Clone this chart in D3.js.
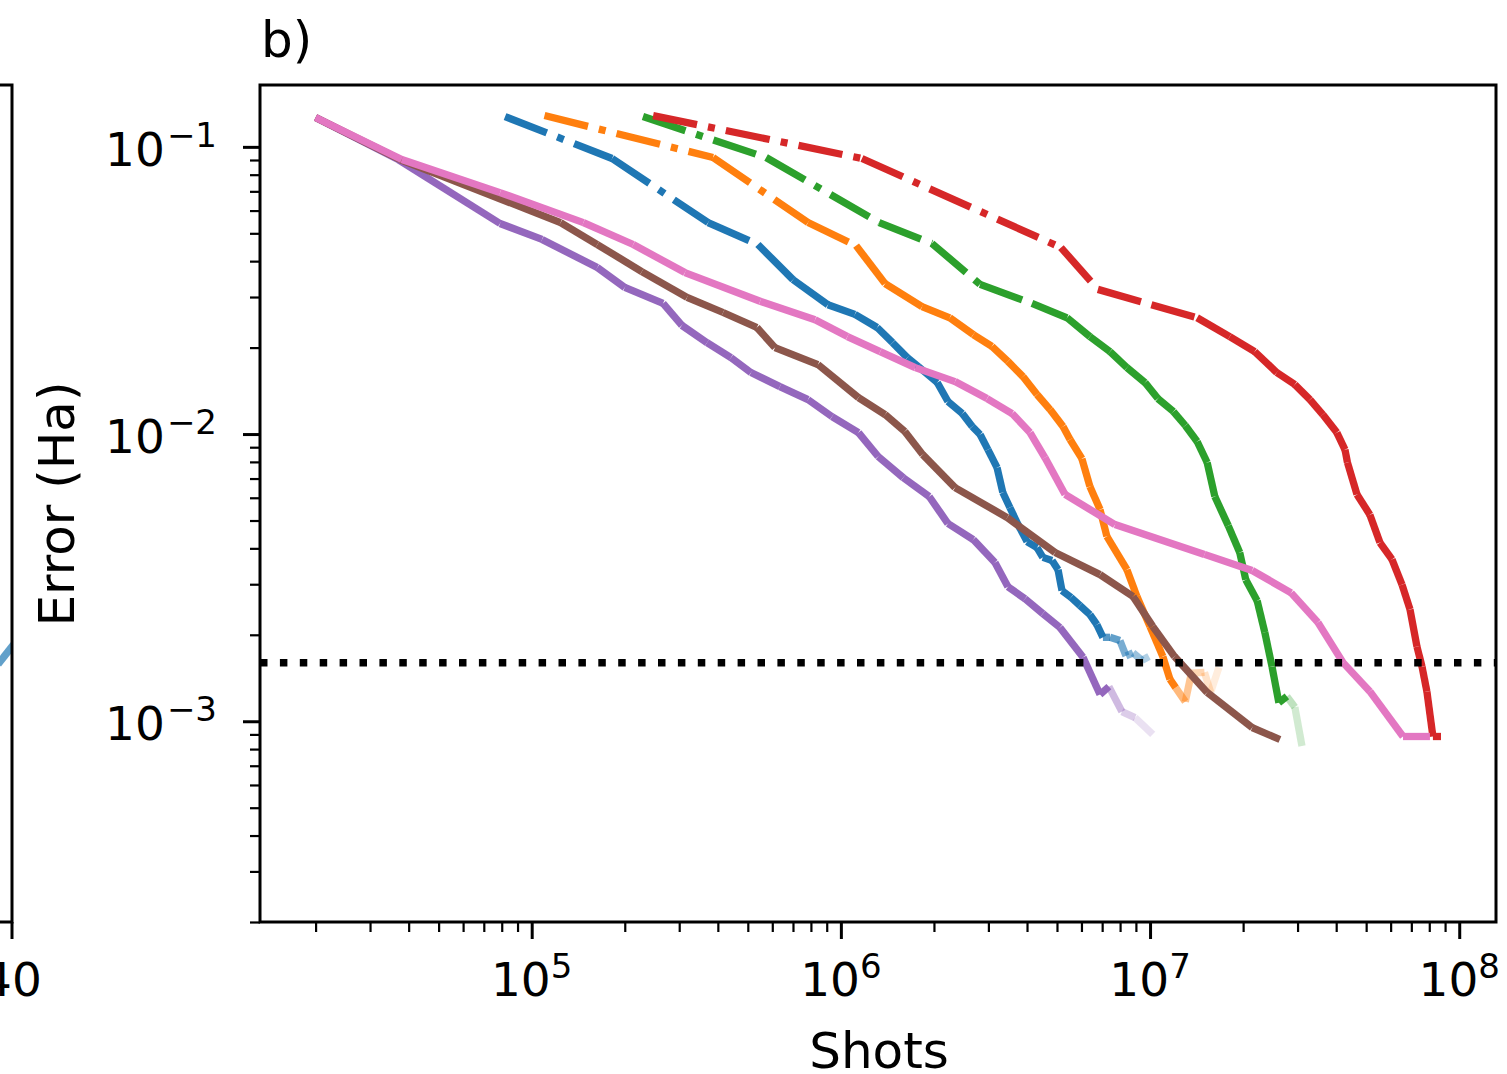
<!DOCTYPE html>
<html>
<head>
<meta charset="utf-8">
<script src="https://cdn.jsdelivr.net/npm/d3@7"></script>
<style>
  html, body { margin: 0; padding: 0; background: #fff; overflow: hidden; }
  text { font-family: "DejaVu Sans", sans-serif; fill: #000; }
</style>
</head>
<body>
<svg id="chart" width="1507" height="1074"></svg>
<script>
// ---- data: shots spent vs. energy error (Ha) for each run ----
const shotsBlue = [8.2e4, 1.82e5, 3.72e5, 5.39e5, 7.0e5, 9.08e5, 1.11e6, 1.31e6, 1.47e6, 1.64e6, 1.78e6, 2.05e6, 2.22e6, 2.47e6, 2.66e6, 2.82e6, 2.99e6, 3.2e6, 3.34e6, 3.52e6, 3.74e6, 4.0e6, 4.31e6, 4.5e6, 4.82e6, 5.04e6, 5.19e6, 5.55e6, 5.93e6, 6.39e6, 6.73e6, 7.04e6, 7.42e6, 7.99e6, 8.36e6, 8.81e6, 9.42e6, 9.92e6];
const errorBlue = [0.1275, 0.0911, 0.0545, 0.0457, 0.0345, 0.0282, 0.0261, 0.0235, 0.0208, 0.01846, 0.01718, 0.01511, 0.01298, 0.01179, 0.01062, 0.00996, 0.00883, 0.00764, 0.00626, 0.00555, 0.00484, 0.00422, 0.00402, 0.00372, 0.00363, 0.00337, 0.00285, 0.0027, 0.00253, 0.00235, 0.00217, 0.00196, 0.00196, 0.00191, 0.00169, 0.00173, 0.00163, 0.00168];

const shotsOrange = [1.1e5, 3.86e5, 7.83e5, 1.12e6, 1.39e6, 1.83e6, 2.25e6, 2.68e6, 3.08e6, 3.47e6, 3.88e6, 4.31e6, 4.75e6, 5.23e6, 5.51e6, 6.02e6, 6.39e6, 6.89e6, 7.25e6, 8.42e6, 9.07e6, 9.99e6, 1.10e7, 1.16e7, 1.21e7, 1.30e7, 1.36e7, 1.50e7, 1.57e7, 1.67e7];
const errorOrange = [0.1285, 0.0918, 0.0545, 0.0453, 0.0334, 0.0278, 0.0254, 0.0222, 0.0202, 0.0179, 0.01585, 0.01373, 0.01217, 0.01062, 0.00957, 0.00821, 0.00657, 0.00546, 0.0044, 0.00337, 0.00272, 0.00214, 0.00168, 0.0014, 0.00131, 0.00117, 0.00147, 0.00148, 0.00126, 0.00154];

const shotsGreen = [2.29e5, 5.73e5, 1.33e6, 1.97e6, 2.82e6, 4.15e6, 5.39e6, 6.39e6, 7.42e6, 8.42e6, 9.63e6, 1.06e7, 1.19e7, 1.30e7, 1.42e7, 1.53e7, 1.62e7, 1.79e7, 1.95e7, 2.04e7, 2.22e7, 2.35e7, 2.48e7, 2.61e7, 2.77e7, 2.94e7, 3.1e7];
const errorGreen = [0.1275, 0.0918, 0.0545, 0.0461, 0.0332, 0.0285, 0.0254, 0.02185, 0.01937, 0.01704, 0.01511, 0.01329, 0.01198, 0.01071, 0.00942, 0.00796, 0.00606, 0.0048, 0.00387, 0.00311, 0.00263, 0.00204, 0.00155, 0.00116, 0.00122, 0.00112, 0.00082];

const shotsRed = [2.47e5, 1.17e6, 5.15e6, 6.78e6, 1.01e7, 1.42e7, 1.81e7, 2.18e7, 2.57e7, 2.94e7, 3.29e7, 3.62e7, 4.02e7, 4.27e7, 4.35e7, 4.67e7, 5.14e7, 5.54e7, 6.06e7, 6.53e7, 6.93e7, 7.3e7, 7.58e7, 7.86e7, 8.22e7, 8.73e7];
const errorRed = [0.1285, 0.0911, 0.0446, 0.0319, 0.0282, 0.0254, 0.02185, 0.01937, 0.01637, 0.01487, 0.01318, 0.01169, 0.01012, 0.00883, 0.00796, 0.00616, 0.00524, 0.00419, 0.00366, 0.00299, 0.00245, 0.00182, 0.00155, 0.00127, 0.000885, 0.000885];

const shotsPurple = [2.0e4, 3.7e4, 7.9e4, 1.08e5, 1.63e5, 2.0e5, 2.66e5, 3.06e5, 3.69e5, 4.41e5, 5.12e5, 6.35e5, 7.83e5, 9.36e5, 1.14e6, 1.32e6, 1.59e6, 1.93e6, 2.22e6, 2.68e6, 3.15e6, 3.47e6, 3.94e6, 4.5e6, 5.11e6, 6.07e6, 6.89e6, 7.36e6, 8.11e6, 8.94e6, 1.02e7];
const errorPurple = [0.1265, 0.0903, 0.0541, 0.0476, 0.038, 0.0324, 0.0285, 0.0239, 0.0208, 0.01846, 0.01637, 0.01463, 0.01318, 0.0115, 0.01012, 0.00835, 0.00705, 0.00606, 0.00488, 0.00429, 0.00357, 0.00294, 0.00267, 0.00237, 0.00212, 0.00167, 0.00124, 0.00132, 0.00108, 0.00103, 0.0009];

const shotsBrown = [2.0e4, 3.75e4, 1.24e5, 1.63e5, 2.27e5, 3.18e5, 4.16e5, 5.35e5, 6.12e5, 8.43e5, 1.14e6, 1.39e6, 1.61e6, 1.84e6, 2.34e6, 3.45e6, 4.93e6, 6.89e6, 8.81e6, 1.02e7, 1.2e7, 1.53e7, 2.14e7, 2.63e7];
const errorBrown = [0.1265, 0.0903, 0.0545, 0.0457, 0.0368, 0.0299, 0.0265, 0.0235, 0.02, 0.01746, 0.0134, 0.01169, 0.0102, 0.00848, 0.00651, 0.00512, 0.00387, 0.00324, 0.00272, 0.00214, 0.00168, 0.00126, 0.00095, 0.000864];

const shotsPink = [2.0e4, 3.8e4, 7.9e4, 1.47e5, 2.13e5, 3.13e5, 5.48e5, 8.25e5, 1.05e6, 1.34e6, 1.74e6, 2.34e6, 2.97e6, 3.58e6, 4.09e6, 4.57e6, 5.31e6, 7.7e6, 1.5e7, 2.14e7, 2.86e7, 3.49e7, 4.21e7, 5.14e7, 6.58e7, 8.04e7];
const errorPink = [0.1265, 0.0903, 0.0693, 0.0545, 0.0457, 0.0365, 0.029, 0.025, 0.02185, 0.01937, 0.01704, 0.01523, 0.01329, 0.01179, 0.01012, 0.00828, 0.00616, 0.00484, 0.00381, 0.00335, 0.0028, 0.00221, 0.0016, 0.00127, 0.000885, 0.000885];

// number of leading segments drawn dash-dotted, and opacity of the trailing segments
const dashDotSegments = { blue: 3, orange: 3, green: 5, red: 5, purple: 0, brown: 0, pink: 0 };
const tailOpacity = {
  blue: [0.75, 0.7, 0.6, 0.55, 0.45, 0.35],
  orange: [0.55, 0.45, 0.32, 0.22, 0.14],
  green: [0.3, 0.22],
  red: [],
  purple: [0.45, 0.33, 0.2],
  brown: [],
  pink: []
};

// reference level drawn as the dotted line (Ha)
const chemicalAccuracy = 1.6e-3;

// tick decades
const xTickExponents = [5, 6, 7, 8];
const yTickExponents = [-1, -2, -3];

// neighbouring panel (a): only its last stretch reaches into view
const panelAIteration = [39.55, 40.05];
const panelAError = [0.00158, 0.00185];
const panelATickLabels = ["40"];

const colors = {
  blue: "#1f77b4", orange: "#ff7f0e", green: "#2ca02c", red: "#d62728",
  purple: "#9467bd", brown: "#8c564b", pink: "#e377c2"
};

const series = [
  { key: "blue", shots: shotsBlue, error: errorBlue },
  { key: "orange", shots: shotsOrange, error: errorOrange },
  { key: "green", shots: shotsGreen, error: errorGreen },
  { key: "red", shots: shotsRed, error: errorRed },
  { key: "purple", shots: shotsPurple, error: errorPurple },
  { key: "brown", shots: shotsBrown, error: errorBrown },
  { key: "pink", shots: shotsPink, error: errorPink }
];

// ---- layout ----
const svg = d3.select("#chart");
const plot = { left: 260, right: 1496, top: 85, bottom: 922 };
const LW = 7.3;
const DASH_UNIT = 7;
const dashDot = [6.4 * DASH_UNIT, 1.6 * DASH_UNIT, 1.0 * DASH_UNIT, 1.6 * DASH_UNIT].join(",");
const FONT = 47, SUP = 34, LABEL_FONT = 50;

const x = d3.scaleLog().domain([13220, 1.315e8]).range([plot.left, plot.right]);
const y = d3.scaleLog().domain([2.0e-4, 0.1642]).range([plot.bottom, plot.top]);

const defs = svg.append("defs");
defs.append("clipPath").attr("id", "plotClip")
  .append("rect")
  .attr("x", plot.left).attr("y", plot.top)
  .attr("width", plot.right - plot.left).attr("height", plot.bottom - plot.top);

const lineGen = d3.line().x(d => x(d[0])).y(d => y(d[1]));

// ---- panel (a) remnant on the left edge ----
const panelARight = 12;
const xa = d3.scaleLinear().domain([0, 40]).range([panelARight - (plot.right - plot.left), panelARight]);
defs.append("clipPath").attr("id", "panelAClip")
  .append("rect").attr("x", -50).attr("y", plot.top)
  .attr("width", panelARight + 50).attr("height", plot.bottom - plot.top);
svg.append("path")
  .attr("clip-path", "url(#panelAClip)")
  .attr("d", d3.line().x(d => xa(d[0])).y(d => y(d[1]))(panelAIteration.map((v, i) => [v, panelAError[i]])))
  .attr("fill", "none").attr("stroke", colors.blue).attr("stroke-opacity", 0.7)
  .attr("stroke-width", LW);
const panelA = svg.append("g");
panelA.append("path")
  .attr("d", `M0,${plot.top}H${xa(40)}V${plot.bottom}H0`)
  .attr("fill", "none").attr("stroke", "#000").attr("stroke-width", 3)
  .attr("stroke-linejoin", "miter");
panelA.append("line")
  .attr("x1", xa(40)).attr("x2", xa(40))
  .attr("y1", plot.bottom).attr("y2", plot.bottom + 17)
  .attr("stroke", "#000").attr("stroke-width", 3);
panelA.append("text")
  .attr("x", xa(40)).attr("y", 996)
  .attr("text-anchor", "middle").attr("font-size", FONT)
  .text(panelATickLabels[0]);

// ---- curves, one segment at a time ----
const curves = svg.append("g").attr("clip-path", "url(#plotClip)");
series.forEach(s => {
  const pts = s.shots.map((v, i) => [v, s.error[i]]);
  const nSeg = pts.length - 1;
  const tail = tailOpacity[s.key];
  const tailStart = nSeg - tail.length;
  for (let i = 0; i < nSeg; i++) {
    const seg = curves.append("path")
      .attr("d", lineGen([pts[i], pts[i + 1]]))
      .attr("fill", "none")
      .attr("stroke", colors[s.key])
      .attr("stroke-width", LW)
      .attr("stroke-linecap", "butt")
      .attr("stroke-linejoin", "round");
    if (i < dashDotSegments[s.key]) seg.attr("stroke-dasharray", dashDot);
    if (i >= tailStart) seg.attr("stroke-opacity", tail[i - tailStart]);
  }
});

// dotted reference line
curves.append("line")
  .attr("x1", plot.left).attr("x2", plot.right)
  .attr("y1", y(chemicalAccuracy)).attr("y2", y(chemicalAccuracy))
  .attr("stroke", "#000").attr("stroke-width", 7.5)
  .attr("stroke-dasharray", "7.5,12.4");

// ---- axes ----
const xMajor = xTickExponents.map(e => Math.pow(10, e));
const yMajor = yTickExponents.map(e => Math.pow(10, e));
const xMinor = x.ticks().filter(v => !xMajor.some(m => Math.abs(m - v) / m < 1e-9));
const yMinor = y.ticks().filter(v => !yMajor.some(m => Math.abs(m - v) / m < 1e-9));

const xAxisMajor = svg.append("g").attr("transform", `translate(0,${plot.bottom})`)
  .call(d3.axisBottom(x).tickValues(xMajor).tickSize(17).tickFormat(""));
const xAxisMinor = svg.append("g").attr("transform", `translate(0,${plot.bottom})`)
  .call(d3.axisBottom(x).tickValues(xMinor).tickSize(10).tickFormat(""));
const yAxisMajor = svg.append("g").attr("transform", `translate(${plot.left},0)`)
  .call(d3.axisLeft(y).tickValues(yMajor).tickSize(17).tickFormat(""));
const yAxisMinor = svg.append("g").attr("transform", `translate(${plot.left},0)`)
  .call(d3.axisLeft(y).tickValues(yMinor).tickSize(10).tickFormat(""));

[xAxisMajor, xAxisMinor, yAxisMajor, yAxisMinor].forEach(g => g.select(".domain").remove());
[xAxisMajor, yAxisMajor].forEach(g => g.selectAll(".tick line").attr("stroke", "#000").attr("stroke-width", 3));
[xAxisMinor, yAxisMinor].forEach(g => g.selectAll(".tick line").attr("stroke", "#000").attr("stroke-width", 2.2));

// x tick labels 10^n
xTickExponents.forEach(e => {
  const t = svg.append("text")
    .attr("x", x(Math.pow(10, e))).attr("y", 996)
    .attr("text-anchor", "middle").attr("font-size", FONT);
  t.append("tspan").text("10");
  t.append("tspan").attr("dy", -18).attr("font-size", SUP).text(String(e));
});

// y tick labels 10^-n
yTickExponents.forEach(e => {
  const t = svg.append("text")
    .attr("x", 217).attr("y", y(Math.pow(10, e)) + 18.7)
    .attr("text-anchor", "end").attr("font-size", FONT);
  t.append("tspan").text("10");
  t.append("tspan").attr("dy", -19).attr("dx", 2).attr("font-size", SUP)
    .text("\u2212" + Math.abs(e));
});

// frame
svg.append("rect")
  .attr("x", plot.left).attr("y", plot.top)
  .attr("width", plot.right - plot.left).attr("height", plot.bottom - plot.top)
  .attr("fill", "none").attr("stroke", "#000").attr("stroke-width", 3);

// axis titles and panel tag
svg.append("text")
  .attr("x", 879).attr("y", 1068)
  .attr("text-anchor", "middle").attr("font-size", LABEL_FONT)
  .text("Shots");
svg.append("text")
  .attr("transform", "translate(74,504) rotate(-90)")
  .attr("text-anchor", "middle").attr("font-size", LABEL_FONT)
  .text("Error (Ha)");
svg.append("text")
  .attr("x", 261).attr("y", 57)
  .attr("font-size", LABEL_FONT)
  .text("b)");
</script>
</body>
</html>
